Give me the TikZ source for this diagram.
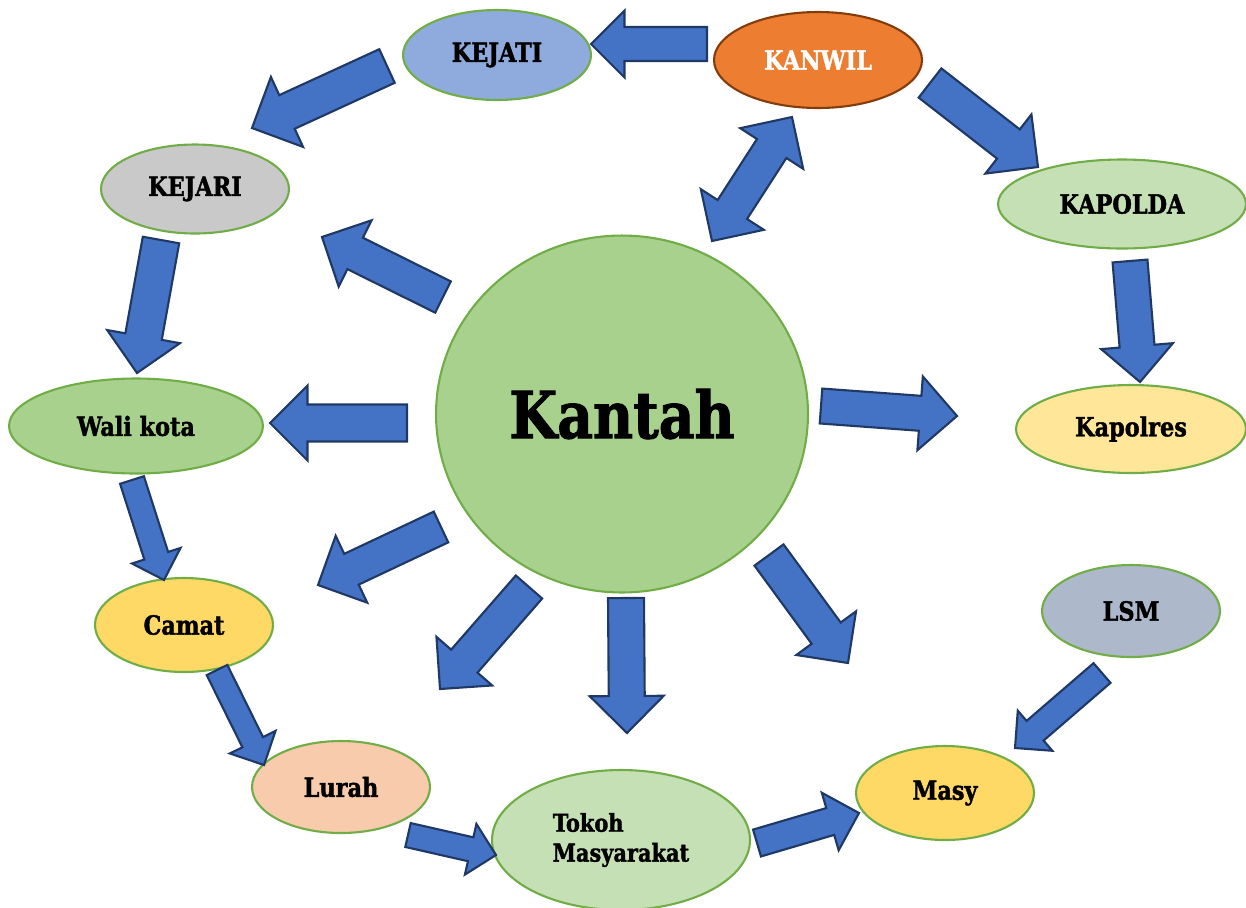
\documentclass[tikz,border=0pt]{standalone}
\usepackage{fontspec}
\setmainfont{DejaVu Serif}[FakeStretch=0.85, BoldFeatures={FakeBold=1.5}]
\usepackage{tikz}
\usetikzlibrary{shapes}
\usetikzlibrary{calc}

\definecolor{arrowfill}{HTML}{4472C4}
\definecolor{arrowline}{HTML}{1F3864}
\definecolor{ovalline}{HTML}{70AD47}
\definecolor{kejatifill}{HTML}{8FAADC}
\definecolor{kanwilfill}{HTML}{ED7D31}
\definecolor{kanwilline}{HTML}{843C0C}
\definecolor{kejarifill}{HTML}{C9C9C9}
\definecolor{lightgreen}{HTML}{C5E0B4}
\definecolor{midgreen}{HTML}{A9D18E}
\definecolor{paleyellow}{HTML}{FFE699}
\definecolor{goldfill}{HTML}{FFD966}
\definecolor{lsmfill}{HTML}{ADB9CA}
\definecolor{lurahfill}{HTML}{F8CBAD}

% block arrow: tail, tip, half shaft, half head
\newcommand{\barrow}[4]{%
  \draw[blockarrow] ($(#1)!#3!90:(#2)$) -- ($(#2)!#4!(#1)!#3!90:(#2)$)
    -- ($(#2)!#4!(#1)!#4!90:(#2)$) -- (#2)
    -- ($(#2)!#4!(#1)!#4!-90:(#2)$) -- ($(#2)!#4!(#1)!#3!-90:(#2)$)
    -- ($(#1)!#3!-90:(#2)$) -- cycle;}
% same with a head at both ends
\newcommand{\dbarrow}[4]{%
  \draw[blockarrow] (#2) -- ($(#2)!#4!(#1)!#4!90:(#2)$) -- ($(#2)!#4!(#1)!#3!90:(#2)$)
    -- ($(#1)!#4!(#2)!#3!-90:(#1)$) -- ($(#1)!#4!(#2)!#4!-90:(#1)$) -- (#1)
    -- ($(#1)!#4!(#2)!#4!90:(#1)$) -- ($(#1)!#4!(#2)!#3!90:(#1)$)
    -- ($(#2)!#4!(#1)!#3!-90:(#2)$) -- ($(#2)!#4!(#1)!#4!-90:(#2)$) -- cycle;}

\begin{document}
\begin{tikzpicture}[x=0.02cm,y=-0.02cm]
	\tikzset{oval/.style = {shape=ellipse, draw=ovalline, line width=1.2pt,
			inner sep=0pt, font=\bfseries\fontsize{15}{17}\selectfont}}
	\tikzset{blockarrow/.style = {fill=arrowfill, draw=arrowline, line width=1.2pt}}
	\useasboundingbox (0,0) rectangle (1246,907);
	
	% vertices
	\node[oval, fill=midgreen, minimum width=7.44cm, minimum height=7.14cm,
	font=\bfseries\fontsize{37}{40}\selectfont] (kantah) at (622,414) {Kantah};
	\node[oval, fill=kejatifill, minimum width=3.76cm, minimum height=1.8cm] (kejati) at (497,55) {KEJATI};
	\node[oval, fill=kanwilfill, draw=kanwilline, text=white, minimum width=4.16cm,
	minimum height=1.92cm] (kanwil) at (818,60) {KANWIL};
	\node[oval, fill=kejarifill, minimum width=3.76cm, minimum height=1.78cm] (kejari) at (195,189) {KEJARI};
	\node[oval, fill=lightgreen, minimum width=4.96cm, minimum height=1.78cm] (kapolda) at (1122,204) {KAPOLDA};
	\node[oval, fill=midgreen, minimum width=5.08cm, minimum height=1.9cm] (walikota) at (136,426) {Wali kota};
	\node[oval, fill=paleyellow, minimum width=4.6cm, minimum height=1.76cm] (kapolres) at (1131,429) {Kapolres};
	\node[oval, fill=goldfill, minimum width=3.56cm, minimum height=1.88cm] (camat) at (184,625) {Camat};
	\node[oval, fill=lsmfill, minimum width=3.56cm, minimum height=1.84cm] (lsm) at (1131,611) {LSM};
	\node[oval, fill=lurahfill, minimum width=3.56cm, minimum height=1.84cm] (lurah) at (341,787) {Lurah};
	\node[oval, fill=lightgreen, minimum width=5.16cm, minimum height=2.8cm, align=left,
	font=\bfseries\fontsize{14}{17}\selectfont] (tokoh) at (621,840) {Tokoh\\Masyarakat};
	\node[oval, fill=goldfill, minimum width=3.56cm, minimum height=1.88cm] (masy) at (945,793) {Masy};
	
	% arrow ends
	\coordinate (p1) at (707,44);   \coordinate (q1) at (591,44);
	\coordinate (p2) at (387,66);   \coordinate (q2) at (252,128);
	\coordinate (p3) at (161,240);  \coordinate (q3) at (137,373);
	\coordinate (p4) at (132,480);  \coordinate (q4) at (164,580);
	\coordinate (p5) at (217,670);  \coordinate (q5) at (264,765);
	\coordinate (p6) at (408,835);  \coordinate (q6) at (496,855);
	\coordinate (p7) at (757,843);  \coordinate (q7) at (859,813);
	\coordinate (p8) at (1102,673); \coordinate (q8) at (1015,748);
	\coordinate (p9) at (930,83);   \coordinate (q9) at (1038,167);
	\coordinate (p10) at (1130,261); \coordinate (q10) at (1140,382);
	\coordinate (p11) at (712,241); \coordinate (q11) at (792,117);
	\coordinate (p12) at (443,297); \coordinate (q12) at (322,237);
	\coordinate (p13) at (407,423); \coordinate (q13) at (270,423);
	\coordinate (p14) at (441,527); \coordinate (q14) at (318,585);
	\coordinate (p15) at (529,587); \coordinate (q15) at (440,689);
	\coordinate (p16) at (626,598); \coordinate (q16) at (627,733);
	\coordinate (p17) at (769,555); \coordinate (q17) at (848,663);
	\coordinate (p18) at (821,406); \coordinate (q18) at (957,416);
	
	%edges
	\barrow{p1}{q1}{0.34cm}{0.67cm}
	\barrow{p2}{q2}{0.37cm}{0.77cm}
	\barrow{p3}{q3}{0.37cm}{0.74cm}
	\barrow{p4}{q4}{0.25cm}{0.51cm}
	\barrow{p5}{q5}{0.23cm}{0.51cm}
	\barrow{p6}{q6}{0.245cm}{0.52cm}
	\barrow{p7}{q7}{0.28cm}{0.6cm}
	\barrow{p8}{q8}{0.26cm}{0.53cm}
	\barrow{p9}{q9}{0.37cm}{0.75cm}
	\barrow{p10}{q10}{0.35cm}{0.72cm}
	\dbarrow{p11}{q11}{0.35cm}{0.75cm}
	\barrow{p12}{q12}{0.35cm}{0.74cm}
	\barrow{p13}{q13}{0.37cm}{0.75cm}
	\barrow{p14}{q14}{0.34cm}{0.74cm}
	\barrow{p15}{q15}{0.35cm}{0.74cm}
	\barrow{p16}{q16}{0.36cm}{0.74cm}
	\barrow{p17}{q17}{0.36cm}{0.74cm}
	\barrow{p18}{q18}{0.35cm}{0.74cm}
	
\end{tikzpicture}
\end{document}
